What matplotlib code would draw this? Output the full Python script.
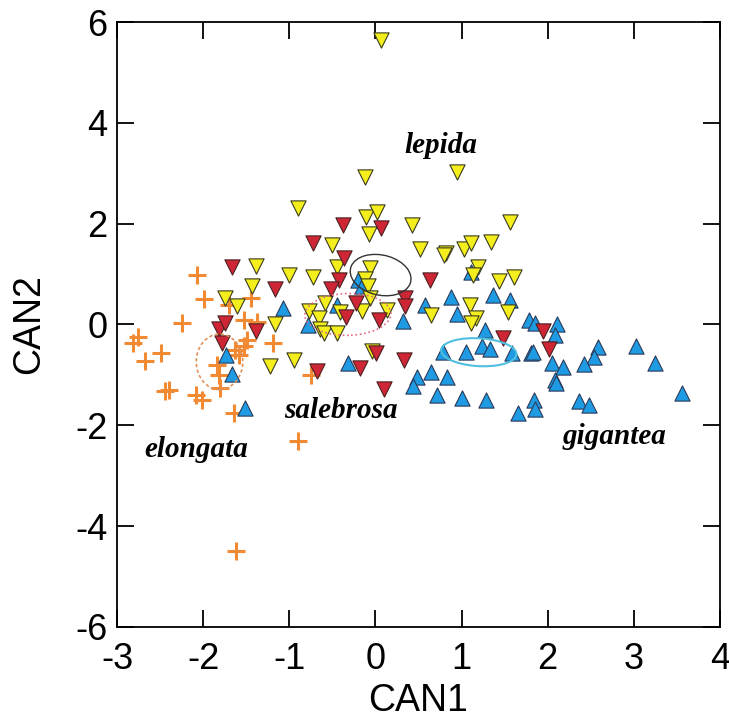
import matplotlib
matplotlib.use("Agg")
import matplotlib.pyplot as plt
from matplotlib.patches import Ellipse

plt.rcParams['axes.unicode_minus'] = False

# elongata (orange +)
elong_x = [-2.07, -1.99, -1.44, -2.25, -1.53, -1.38, -1.70, -2.76, -2.82, -2.49, -2.67,
           -1.49, -1.19, -1.53, -1.63, -1.58, -1.84, -1.82, -1.81, -2.44, -2.40, -2.08,
           -2.01, -1.64, -0.75, -0.90, -1.62]
elong_y = [0.99, 0.51, 0.53, 0.02, 0.08, 0.05, 0.38, -0.25, -0.36, -0.57, -0.73,
           -0.30, -0.36, -0.42, -0.51, -0.61, -0.81, -1.00, -1.25, -1.31, -1.29, -1.40,
           -1.50, -1.76, -1.00, -2.32, -4.50]

# lepida (yellow down-triangles)
lep_x = [0.07, -0.12, 0.95, -0.90, -0.11, 0.02, 0.42, -0.07, -0.51, 0.52,
         -0.45, -1.00, -0.73, -0.06, -0.12, -0.09, -0.06, 0.13, -0.16, -0.58,
         -0.77, -0.65, -0.64, -0.60, -0.45, -0.41, 0.64, -0.94, -1.22,
         0.82, 0.80, 1.03, 1.11, 1.34, 1.56, 1.19, 1.13, 1.44, 1.61, 1.10,
         1.17, 1.11, 1.54, -0.04, -1.39, -1.43, -1.75, -1.61, -1.17]
lep_y = [5.65, 2.92, 3.02, 2.32, 2.14, 2.23, 1.98, 1.80, 1.57, 1.50,
         1.15, 0.99, 0.94, 1.13, 0.91, 0.76, 0.53, 0.28, 0.26, 0.42,
         0.26, 0.13, -0.08, -0.17, -0.17, 0.25, 0.18, -0.71, -0.83,
         1.42, 1.38, 1.50, 1.62, 1.64, 2.03, 1.14, 0.98, 0.86, 0.94, 0.38,
         0.12, 0.02, 0.25, -0.52, 1.17, 0.76, 0.53, 0.36, 0.01]

# salebrosa (red down-triangles)
sal_x = [-1.67, -1.17, -1.82, -1.75, -1.78, -1.39, -0.38, 0.07, -0.73, -0.37,
         -0.42, -0.52, 0.63, -0.23, -0.34, 0.04, 0.34, 0.34, 0.01, 0.33,
         -0.18, -0.68, 0.10, 1.48, 1.95, 2.02]
sal_y = [1.15, 0.71, -0.08, 0.02, -0.36, -0.13, 1.97, 1.91, 1.62, 1.31,
         0.89, 0.70, 0.88, 0.43, 0.15, 0.09, 0.53, 0.36, -0.56, -0.71,
         -0.87, -0.92, -1.27, -0.27, -0.13, -0.48]

# gigantea (blue up-triangles)
gig_x = [-1.07, -1.73, -1.66, -1.51, -0.78, -0.20, -0.16, -0.45, 0.32, 0.57,
         0.88, 0.95, 0.78, 1.05, -0.32, 0.64, 0.48, 0.44, 0.83, 0.71,
         1.00, 1.11, 1.36, 1.56, 1.27, 1.78, 1.85, 2.11, 2.08, 1.24,
         1.33, 1.59, 1.80, 1.83, 2.58, 2.54, 3.02, 3.24, 2.05, 2.18,
         2.42, 2.08, 2.10, 1.28, 1.84, 1.85, 2.36, 2.48, 1.65, 3.56]
gig_y = [0.33, -0.61, -0.98, -1.65, -0.01, 0.88, 0.76, 0.38, 0.07, 0.38,
         0.55, 0.20, -0.54, -0.54, -0.77, -0.94, -1.04, -1.22, -1.04, -1.40,
         -1.45, 1.04, 0.58, 0.48, -0.11, 0.09, 0.02, 0.00, -0.20, -0.43,
         -0.49, -0.57, -0.56, -0.54, -0.44, -0.64, -0.43, -0.77, -0.77, -0.84,
         -0.79, -1.10, -1.17, -1.49, -1.49, -1.68, -1.52, -1.60, -1.75, -1.35]

# group ellipses: centre x, centre y, width, height, angle
ell_names = ["lepida", "salebrosa", "gigantea", "elongata"]
ell_cx = [0.06, -0.32, 1.20, -1.81]
ell_cy = [0.98, 0.20, -0.55, -0.74]
ell_w = [0.67, 1.00, 0.88, 0.54]
ell_h = [0.85, 0.83, 0.55, 1.10]
ell_ang = [25, 5, -8, 0]

labels = ["lepida", "salebrosa", "gigantea", "elongata"]
label_x = [0.76, -0.40, 2.77, -2.08]
label_y = [3.55, -1.70, -2.23, -2.48]

fig = plt.figure(figsize=(7.29, 7.19), dpi=100)
ax = fig.add_axes([0.1605, 0.128, 0.8272, 0.8414])

ax.scatter(elong_x, elong_y, marker='+', s=170, color='#f28a33', linewidths=2.2, zorder=2)
ax.scatter(gig_x, gig_y, marker='^', s=120, facecolor='#1f9be3', edgecolor='#2a3a5a', linewidths=0.8, zorder=3)
ax.scatter(lep_x, lep_y, marker='v', s=120, facecolor='#f3ee1c', edgecolor='#3a3a20', linewidths=0.8, zorder=4)
ax.scatter(sal_x, sal_y, marker='v', s=120, facecolor='#cf2636', edgecolor='#4a2020', linewidths=0.8, zorder=5)

ell_style = [dict(edgecolor='#333333', linestyle='-', linewidth=1.0),
             dict(edgecolor='#e06b80', linestyle=':', linewidth=1.2),
             dict(edgecolor='#4fc0df', linestyle='-', linewidth=1.5),
             dict(edgecolor='#e0905a', linestyle=(0, (2, 1.5)), linewidth=1.2)]
for cx, cy, w, h, a, st in zip(ell_cx, ell_cy, ell_w, ell_h, ell_ang, ell_style):
    ax.add_patch(Ellipse((cx, cy), w, h, angle=a, facecolor='none', zorder=6, **st))

for t, lx, ly in zip(labels, label_x, label_y):
    ax.text(lx, ly, t, family='Liberation Serif', style='italic', weight='bold',
            fontsize=21, ha='center', va='center', zorder=7)

ax.set_xlim(-3, 4)
ax.set_ylim(-6, 6)
ax.set_xticks(range(-3, 5))
ax.set_yticks(range(-6, 7, 2))
ax.set_xticklabels([str(v) for v in range(-3, 5)])
ax.set_yticklabels([str(v) for v in range(-6, 7, 2)])
ax.tick_params(direction='in', length=12, width=1.3, top=True, right=True,
               labelsize=26, pad=7)
ax.tick_params(axis='x', pad=11)
for sp in ax.spines.values():
    sp.set_linewidth(1.3)
for lab in ax.get_xticklabels() + ax.get_yticklabels():
    lab.set_family('Liberation Sans')
ax.set_xlabel('CAN1', family='Liberation Sans', fontsize=27, labelpad=4)
ax.set_ylabel('CAN2', family='Liberation Sans', fontsize=27, labelpad=20)

fig.savefig('out.png', dpi=100)
